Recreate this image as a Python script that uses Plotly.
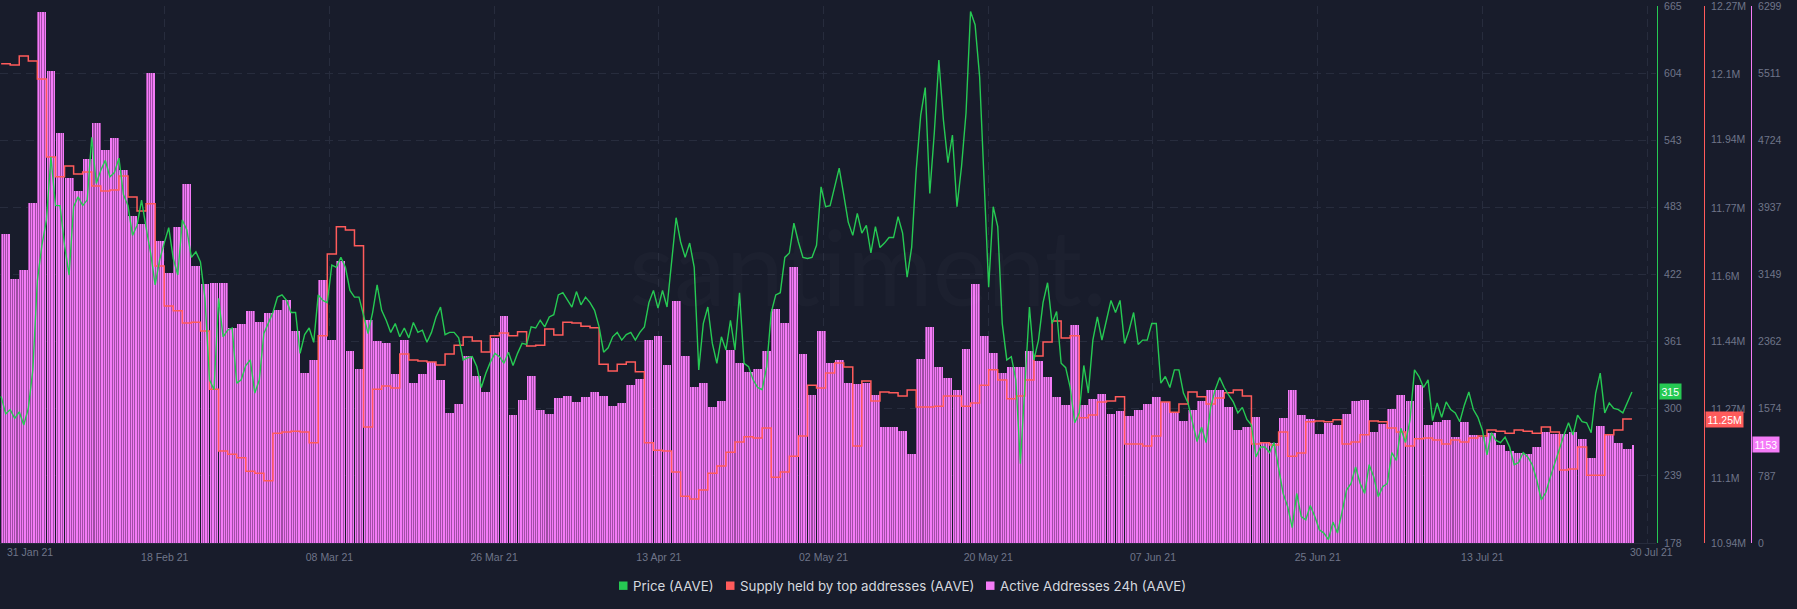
import numpy as np
import pandas as pd
import plotly.graph_objects as go

# Values

# Active addresses, one value a day (last entry is the partial day)
active = [
    3625, 3097, 3202, 3988, 6229, 5537, 4809, 4281, 4129, 4504,
    4927, 4610, 4751, 4375, 3836, 3742, 5513, 3542, 3167, 3707,
    4211, 3249, 3038, 3050, 3050, 2522, 2569, 2721, 2592, 2698,
    2733, 2850, 2487, 1994, 2147, 3085, 2381, 3308, 2252, 2041,
    2616, 2369, 2346, 1982, 2381, 1877, 1982, 2123, 1912, 1525,
    1630, 2194, 1959, 1771, 2405, 2663, 1501, 1677, 1959, 1560,
    1513, 1701, 1724, 1654, 1713, 1771, 1724, 1607, 1642, 1853,
    1924, 2381, 2428, 2088, 2839, 2194, 1830, 1877, 1595, 1666,
    2264, 2111, 2006, 2041, 2252, 2745, 2581, 3237, 2217, 1736,
    2487, 2111, 2147, 1877, 1865, 1877, 1736, 1361, 1361, 1314,
    1044, 2158, 2534, 2064, 1935, 1795, 2276, 3038, 2428, 2229,
    1994, 2064, 2064, 2252, 2135, 1947, 1713, 1619, 2557, 1619,
    1689, 1748, 1513, 1548, 1490, 1560, 1630, 1713, 1654, 1525,
    1431, 1560, 1666, 1795, 1795, 1595, 1325, 1361, 1478, 1185,
    1173, 1466, 1795, 1501, 1454, 1279, 1408, 1384, 1513, 1666,
    1677, 1302, 1396, 1572, 1736, 1666, 1853, 1384, 1419, 1443,
    1243, 1419, 1267, 1243, 1290, 1150, 1079, 1056, 1044, 1126,
    1302, 1279, 1279, 1302, 1220, 997, 1372, 1267, 1173, 1103,
    1153,
]

# Supply held by top addresses, in millions, one value a day
supply = [
    12.127, 12.124, 12.146, 12.134, 12.089, 11.896, 11.847, 11.874, 11.854, 11.859,
    11.824, 11.812, 11.814, 11.849, 11.797, 11.762, 11.780, 11.626, 11.527, 11.515,
    11.485, 11.487, 11.465, 11.321, 11.168, 11.160, 11.151, 11.118, 11.113, 11.094,
    11.212, 11.215, 11.217, 11.215, 11.188, 11.453, 11.656, 11.723, 11.715, 11.676,
    11.227, 11.321, 11.329, 11.324, 11.408, 11.393, 11.391, 11.388, 11.381, 11.408,
    11.430, 11.450, 11.440, 11.413, 11.453, 11.460, 11.453, 11.463, 11.428, 11.430,
    11.470, 11.455, 11.487, 11.485, 11.477, 11.473, 11.383, 11.366, 11.383, 11.388,
    11.364, 11.188, 11.170, 11.168, 11.116, 11.056, 11.049, 11.071, 11.113, 11.131,
    11.165, 11.190, 11.203, 11.200, 11.225, 11.103, 11.116, 11.155, 11.205, 11.331,
    11.324, 11.361, 11.386, 11.376, 11.180, 11.341, 11.292, 11.314, 11.312, 11.304,
    11.319, 11.277, 11.277, 11.279, 11.304, 11.304, 11.279, 11.287, 11.331, 11.369,
    11.344, 11.297, 11.304, 11.344, 11.403, 11.438, 11.490, 11.448, 11.453, 11.250,
    11.257, 11.289, 11.292, 11.302, 11.185, 11.185, 11.180, 11.205, 11.289, 11.264,
    11.284, 11.314, 11.302, 11.284, 11.299, 11.312, 11.319, 11.304, 11.185, 11.188,
    11.183, 11.215, 11.155, 11.163, 11.240, 11.242, 11.240, 11.245, 11.185, 11.190,
    11.208, 11.242, 11.240, 11.225, 11.215, 11.180, 11.198, 11.200, 11.195, 11.185,
    11.195, 11.190, 11.200, 11.205, 11.220, 11.217, 11.212, 11.220, 11.217, 11.212,
    11.227, 11.215, 11.121, 11.123, 11.178, 11.108, 11.108, 11.208, 11.220, 11.247,
]

# Price, one value every 12 hours
price = [
    311, 295, 299, 291, 297, 285, 300, 335, 416, 448, 471, 528, 484, 484, 448, 421, 483, 492, 484, 489,
    546, 504, 516, 525, 510, 514, 527, 494, 484, 457, 466, 489, 464, 441, 412, 435, 450, 464, 436, 421,
    471, 462, 437, 442, 433, 400, 326, 317, 400, 365, 371, 373, 323, 326, 339, 344, 314, 326, 368, 377,
    387, 401, 403, 398, 387, 387, 350, 367, 373, 360, 403, 398, 396, 430, 428, 437, 428, 407, 401, 401,
    383, 368, 387, 412, 389, 380, 369, 377, 365, 373, 364, 378, 369,
    371, 360, 369, 383, 392, 367, 369, 369, 364, 344,
    346, 347, 338, 319, 332, 342, 350, 347, 341, 351,
    339, 350, 359, 358, 374, 373, 380, 374, 383, 385,
    403, 405, 398, 392, 406, 394, 401, 396, 389, 374,
    351, 355, 365, 369, 362, 367, 369, 362, 369, 374,
    396, 407, 391, 407, 392, 435, 473, 451, 437, 450,
    428, 335, 377, 392, 359, 341, 365, 353, 380, 353,
    405, 341, 338, 326, 319, 317, 338, 387, 403, 405,
    437, 441, 468, 451, 437, 436, 437, 448, 501, 483,
    484, 501, 518,
    494, 469, 457, 477, 459, 466, 441, 465, 446, 450, 455, 455, 474, 459, 419, 446, 516, 566, 591, 495,
    550, 616, 562, 523, 548, 483, 519, 568, 660, 648, 601, 504, 410, 483, 465,
    377, 344, 347, 326, 250, 326, 392, 344, 362, 396, 414, 377, 388, 341, 337, 319, 287, 296, 339, 314,
    362, 383, 362, 380, 398, 387, 398, 359, 371, 387, 358, 362, 362, 377, 377, 323, 329, 319, 335, 335,
    314, 305, 287, 270, 283, 269, 301, 317, 328, 319, 312, 306, 296, 301, 290, 285, 256,
    265, 265, 260, 269, 244, 223, 211, 192, 223, 202,
    199, 212, 202, 190, 187, 181, 197, 187, 206, 226,
    232, 247, 232, 223, 249, 238, 220, 229, 232, 260,
    253, 282, 269, 289, 335, 329, 319, 326, 289, 305,
    292, 306, 299, 296, 288, 303, 315, 299, 292, 280,
    258, 278, 271, 269, 274, 265, 249, 251, 260, 256,
    249, 235, 217, 224, 238, 251, 265, 276, 287, 276,
    294, 288, 287, 278, 314, 332, 296, 305, 300, 299,
    296, 305, 315,
]

price_ticks = [178, 239, 300, 361, 422, 483, 543, 604, 665]
supply_ticks = [10.94, 11.1, 11.27, 11.44, 11.6, 11.77, 11.94, 12.1, 12.27]
supply_labels = ["10.94M", "11.1M", "11.27M", "11.44M", "11.6M", "11.77M", "11.94M", "12.1M", "12.27M"]
active_ticks = [0, 787, 1574, 2362, 3149, 3937, 4724, 5511, 6299]
date_labels = ["", "18 Feb 21", "08 Mar 21", "26 Mar 21", "13 Apr 21", "02 May 21",
               "20 May 21", "07 Jun 21", "25 Jun 21", "13 Jul 21", ""]

BG = "#181c2b"
GREEN = "#26c953"
RED = "#ff5b5b"
PINK = "#f47bf7"
PINK_DARK = "#a04ea6"
GRID = "#272c3d"
MUTED = "#6f7589"
W, H = 1797, 609
PLOT_RIGHT, PLOT_TOP, PLOT_BOTTOM = 1656, 6, 543
FONT = "Liberation Sans"

# Time scale
start = pd.Timestamp("2021-01-31")
t0 = start + pd.Timedelta(hours=3)
day_px = 9.06
x_end = start + pd.Timedelta(days=PLOT_RIGHT / day_px)
tick_dates = [start + pd.Timedelta(days=18.18 * i) for i in range(11)]

# a darker bar for each day, with four lighter 6 hour bars on it (the last day has only one)
day_x = pd.date_range(t0 + pd.Timedelta(hours=12), periods=len(active) - 1, freq="1D")
active_x = pd.date_range(t0 + pd.Timedelta(hours=3), periods=len(active) * 4 - 3, freq="6h")
active_y = np.repeat(active, 4)[:-3]
supply_x = pd.date_range(t0, periods=len(supply) + 1, freq="1D")
supply_y = supply + [supply[-1]]
price_x = pd.date_range(t0, periods=len(price), freq="12h")

fig = go.Figure()
fig.add_trace(go.Bar(x=day_x, y=active[:-1], yaxis="y", width=23.5 * 3600 * 1000,
                     marker=dict(color=PINK_DARK, line_width=0), showlegend=False, hoverinfo="skip"))
fig.add_trace(go.Bar(x=active_x, y=active_y, name="Active Addresses 24h (AAVE)", yaxis="y",
                     width=3.3 * 3600 * 1000, marker=dict(color=PINK, line_width=0), showlegend=False))
fig.add_trace(go.Scatter(x=supply_x, y=supply_y, name="Supply held by top addresses (AAVE)", yaxis="y2",
                         mode="lines", line=dict(color=RED, width=1.5, shape="hv"), showlegend=False))
fig.add_trace(go.Scatter(x=price_x, y=price, name="Price (AAVE)", yaxis="y3",
                         mode="lines", line=dict(color=GREEN, width=1.4), showlegend=False))

tick_font = dict(family=FONT, size=10.5, color=MUTED)


def side_axis(color, pos, **kw):
    return dict(side="right", anchor="free", position=pos, showline=True, linecolor=color, linewidth=1.5,
                ticks="outside", ticklen=4, tickcolor="rgba(0,0,0,0)", tickfont=tick_font,
                ticklabeloverflow="allow", zeroline=False, **kw)


fig.update_layout(
    width=W, height=H,
    paper_bgcolor=BG, plot_bgcolor=BG,
    margin=dict(l=0, r=0, t=PLOT_TOP, b=H - PLOT_BOTTOM),
    barmode="overlay", bargap=0, showlegend=False,
    xaxis=dict(type="date", domain=[0, PLOT_RIGHT / W], range=[start, x_end],
               tickmode="array", tickvals=tick_dates, ticktext=date_labels, tickfont=tick_font,
               ticks="outside", ticklen=4, tickcolor="rgba(0,0,0,0)",
               showline=True, linecolor=GRID, linewidth=1,
               showgrid=True, gridcolor=GRID, griddash="8px,5px", gridwidth=1, zeroline=False),
    yaxis=side_axis(PINK, 1750.5 / W, range=[0, 6299], tickmode="array", tickvals=active_ticks,
                    showgrid=True, gridcolor=GRID, griddash="8px,5px", gridwidth=1),
    yaxis2=side_axis(RED, 1703.5 / W, overlaying="y", range=[10.94, 12.27], tickmode="array",
                     tickvals=supply_ticks, ticktext=supply_labels, showgrid=False),
    yaxis3=side_axis(GREEN, 1656.5 / W, overlaying="y", range=[178, 665], tickmode="array",
                     tickvals=price_ticks, showgrid=False),
)

# Watermark
fig.add_annotation(text="santiment.", xref="paper", yref="paper", x=868 / W, y=(543 - 265) / 537,
                   xanchor="center", yanchor="middle", showarrow=False,
                   font=dict(family="Lato", size=104, color="rgba(255,255,255,0.018)"))

# First and last date labels sit off the tick positions
fig.add_annotation(text="31 Jan 21", xref="paper", yref="paper", x=5 / W, y=(543 - 552) / 537,
                   xanchor="left", yanchor="middle", showarrow=False, font=tick_font)
fig.add_annotation(text="30 Jul 21", xref="paper", yref="paper", x=1651 / W, y=(543 - 552) / 537,
                   xanchor="center", yanchor="middle", showarrow=False, font=tick_font)

# Last value badges
for label, x_px, ref, val, col in [("315", 1670, "y3", price[-1], GREEN),
                                   ("11.25M", 1724, "y2", supply[-1], RED),
                                   ("1153", 1766, "y", active[-1], PINK)]:
    fig.add_annotation(text=label, xref="paper", yref=ref, x=x_px / W, y=val, showarrow=False,
                       xanchor="center", yanchor="middle",
                       bgcolor=col, borderpad=1.5, font=dict(family=FONT, size=10.5, color="white"))

# Legend row
legend_y = (543 - 585.7) / 537
for label, sq_px, col in [("Price (AAVE)", 619, GREEN),
                          ("Supply held by top addresses (AAVE)", 726, RED),
                          ("Active Addresses 24h (AAVE)", 986, PINK)]:
    fig.add_shape(type="rect", xref="paper", yref="paper", x0=sq_px / W, x1=(sq_px + 8.5) / W,
                  y0=legend_y - 4.2 / 537, y1=legend_y + 4.2 / 537, fillcolor=col, line_width=0)
    fig.add_annotation(text=label, xref="paper", yref="paper", x=(sq_px + 12) / W, y=legend_y,
                       xanchor="left", yanchor="middle", showarrow=False,
                       font=dict(family="Inter", size=13.3, color="#d5d8df"))

# staticPlot keeps the thin bars antialiased, so the daily bars show their stripes
fig.write_html("out.html", config={"staticPlot": True}, post_script="document.body.style.margin='0';")
